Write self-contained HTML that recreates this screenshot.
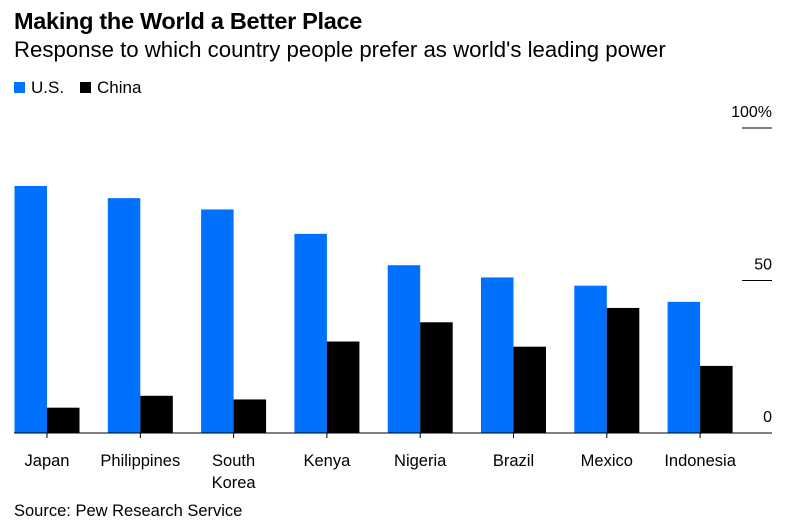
<!DOCTYPE html>
<html><head><meta charset="utf-8"><style>
body{margin:0;background:#fff;font-family:"Liberation Sans",sans-serif;}
#wrap{position:relative;width:796px;height:523px;overflow:hidden}
.t{position:absolute;white-space:nowrap;color:#000}
</style></head><body><div id="wrap">
<div class="t" style="left:14px;top:8px;font-size:23.5px;font-weight:bold;letter-spacing:-0.3px">Making the World a Better Place</div>
<div class="t" style="left:14px;top:37px;font-size:22.2px">Response to which country people prefer as world's leading power</div>
<div class="t" style="left:14px;top:78px;font-size:17px"><span style="display:inline-block;width:11px;height:11px;background:#0070ff;margin-right:6px"></span>U.S.</div>
<div class="t" style="left:80px;top:78px;font-size:17px"><span style="display:inline-block;width:11px;height:11px;background:#000;margin-right:6px"></span>China</div>
<svg id="svg" width="796" height="523" style="position:absolute;left:0;top:0"></svg>
<div class="t" style="left:14px;top:502px;font-size:16.5px">Source: Pew Research Service</div>
</div>
<script>
const categories=["Japan","Philippines","South\nKorea","Kenya","Nigeria","Brazil","Mexico","Indonesia"];
const usValues=[81,77,73.3,65.3,55,51,48.3,43];
const chinaValues=[8.3,12.2,11,30,36.3,28.3,41,22];
const tickValues=[0,50,100];
const tickLabels=["0","50","100%"];
const svg=document.getElementById('svg');const NS='http://www.w3.org/2000/svg';
function y(v){return 433-v*3.05;}
function xc(i){return 47+i*93.3;}
const bw=32.5;
function mk(tag,a){const e=document.createElementNS(NS,tag);for(const k in a)e.setAttribute(k,a[k]);svg.appendChild(e);return e;}
tickValues.forEach((v,i)=>{
 if(v>0){const l=mk('line',{x1:742,x2:772,y1:y(v),y2:y(v),stroke:'#000','stroke-width':1});
 
 }
 const t=mk('text',{x:772,y:y(v)-11,'text-anchor':'end','font-size':16,'font-family':'Liberation Sans, sans-serif',fill:'#000'});
 t.textContent=tickLabels[i];
 
 
});
categories.forEach((c,i)=>{
 const b1=mk('rect',{x:xc(i)-bw,y:y(usValues[i]),width:bw,height:433-y(usValues[i]),fill:'#0070ff'});
 
 
 const b2=mk('rect',{x:xc(i),y:y(chinaValues[i]),width:bw,height:433-y(chinaValues[i]),fill:'#000'});
 
 
 const tk=mk('line',{x1:xc(i),x2:xc(i),y1:433,y2:438,stroke:'#000'});
 
 
 c.split('\n').forEach((ln,j)=>{
  const t=mk('text',{x:xc(i),y:466+j*22,'text-anchor':'middle','font-size':16.5,'font-family':'Liberation Sans, sans-serif',fill:'#000'});
  t.textContent=ln;
  
  
 });
});
const base=mk('line',{x1:14,x2:772,y1:433,y2:433,stroke:'#000','stroke-width':1});


</script></body></html>
